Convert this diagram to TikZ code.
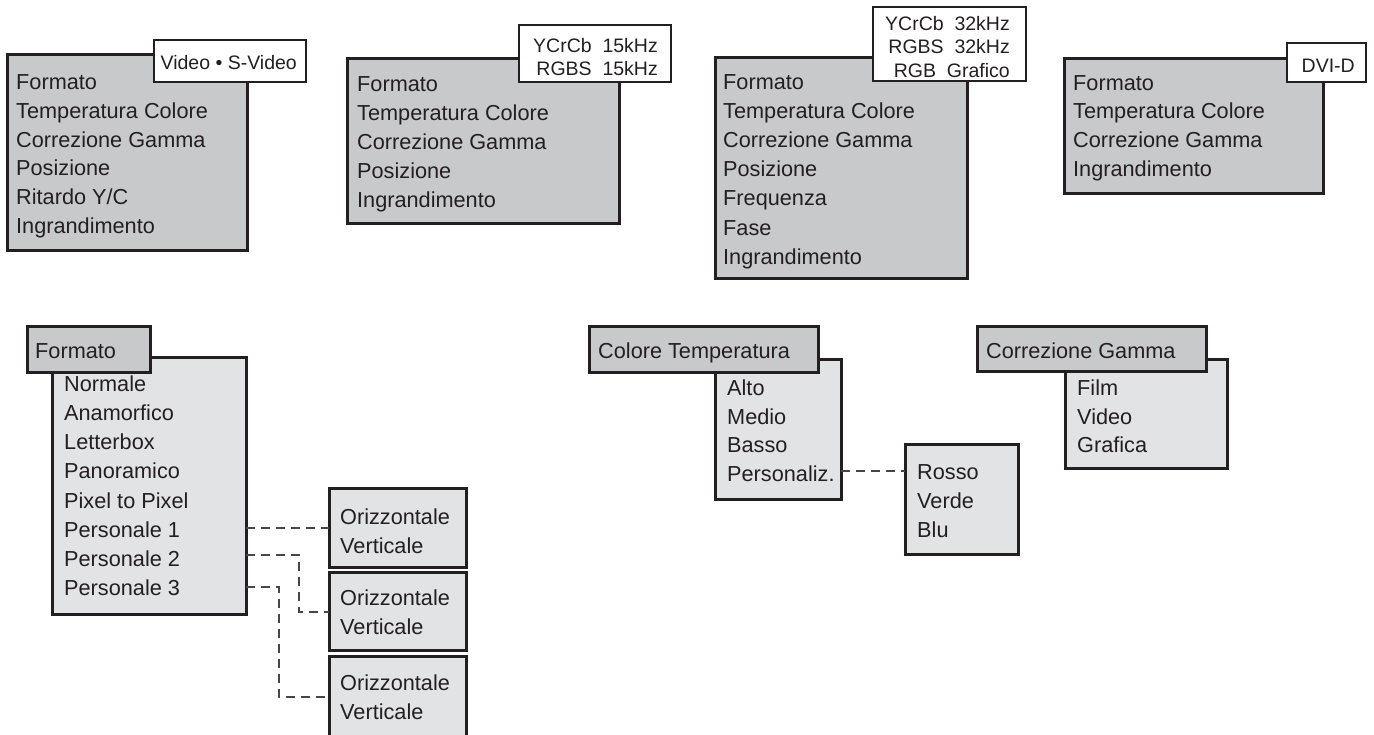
\documentclass[tikz,border=0pt]{standalone}
\usepackage{fontspec}
\setmainfont{Liberation Sans}
\usetikzlibrary{fit}
\definecolor{ink}{RGB}{35,31,32}
\definecolor{gdark}{RGB}{200,201,203}
\definecolor{glight}{RGB}{226,227,229}
\definecolor{dashc}{RGB}{70,70,70}
\begin{document}
\begin{tikzpicture}[x=1pt,y=-1pt,
  boxd/.style={draw=ink, line width=3pt, fill=gdark, inner sep=0pt, outer sep=0pt},
  boxl/.style={draw=ink, line width=3pt, fill=glight, inner sep=0pt, outer sep=0pt},
  lab/.style={draw=ink, line width=2pt, fill=white, inner sep=0pt, outer sep=0pt},
  txt/.style={anchor=base west, inner sep=0pt, text=ink, font=\fontsize{21.7}{29}\selectfont},
  ltxt/.style={anchor=base east, inner sep=0pt, text=ink, font=\fontsize{19.5}{23}\selectfont},
  dashline/.style={draw=dashc, line width=1.5pt, dash pattern=on 9pt off 6pt}]
\useasboundingbox (0,0) rectangle (1374,734);

% ---------- top row ----------
\node[boxd, fit={(7,54) (247,250)}] (b1) {};
\node[lab, fit={(154,40) (306,82)}] (l1) {};
\node[ltxt] (l1t) at (297,69) {Video • S-Video};
\foreach \t [count=\i from 0] in {Formato,Temperatura Colore,Correzione Gamma,Posizione,Ritardo Y/C,Ingrandimento}
  \node[txt] (a\i) at (16,{89.5+28.8*\i}) {\t};

\node[boxd, fit={(347,58) (619,223)}] (b2) {};
\node[lab, fit={(519,25) (671,82)}] (l2) {};
\node[ltxt] (l2a) at (658,52) {YCrCb\ \ 15kHz};
\node[ltxt] (l2b) at (658,75) {RGBS\ \ 15kHz};
\foreach \t [count=\i from 0] in {Formato,Temperatura Colore,Correzione Gamma,Posizione,Ingrandimento}
  \node[txt] (c\i) at (357,{91+29*\i}) {\t};

\node[boxd, fit={(715,57) (967,278)}] (b3) {};
\node[lab, fit={(873,7) (1026,81)}] (l3) {};
\node[ltxt] (l3a) at (1010,30) {YCrCb\ \ 32kHz};
\node[ltxt] (l3b) at (1010,53.5) {RGBS\ \ 32kHz};
\node[ltxt] (l3c) at (1010,77) {RGB\ \ Grafico};
\foreach \t [count=\i from 0] in {Formato,Temperatura Colore,Correzione Gamma,Posizione,Frequenza,Fase,Ingrandimento}
  \node[txt] (d\i) at (723,{89.5+29.1*\i}) {\t};

\node[boxd, fit={(1064,58) (1323,193)}] (b4) {};
\node[lab, fit={(1287,43) (1366,82)}] (l4) {};
\node[ltxt] (l4t) at (1355,72) {DVI-D};
\foreach \t [count=\i from 0] in {Formato,Temperatura Colore,Correzione Gamma,Ingrandimento}
  \node[txt] (e\i) at (1073,{90+28.8*\i}) {\t};

% ---------- Formato ----------
\node[boxl, fit={(52,357) (246,614)}] (flist) {};
\node[boxd, fit={(27,326) (150,372)}] (fhead) {};
\node[txt] (fheadt) at (35,358.5) {Formato};
\foreach \t [count=\i from 0] in {Normale,Anamorfico,Letterbox,Panoramico,Pixel to Pixel,Personale 1,Personale 2,Personale 3}
  \node[txt] (f\i) at (64,{391.5+29.14*\i}) {\t};

\node[boxl, fit={(329,488) (466,567)}] (sA) {};
\node[boxl, fit={(329,572) (466,650)}] (sB) {};
\node[boxl, fit={(329,656) (466,745)}] (sC) {};
\node[txt] (sA1) at (340,524.5) {Orizzontale};
\node[txt] (sA2) at (340,553) {Verticale};
\node[txt] (sB1) at (340,605.5) {Orizzontale};
\node[txt] (sB2) at (340,634) {Verticale};
\node[txt] (sC1) at (340,690.5) {Orizzontale};
\node[txt] (sC2) at (340,719) {Verticale};

\coordinate (q1) at (0,528);
\coordinate (q2) at (0,555);
\coordinate (k2) at (299,612);
\coordinate (q3) at (0,587);
\coordinate (k3) at (279,697);
\draw[dashline] (flist.east |- q1) -- (sA.west |- q1);
\draw[dashline] (flist.east |- q2) -| (k2) -- (sB.west |- k2);
\draw[dashline] (flist.east |- q3) -| (k3) -- (sC.west |- k3);

% ---------- Colore Temperatura ----------
\node[boxl, fit={(715,359) (841,499)}] (ctlist) {};
\node[boxd, fit={(589,326) (818,372)}] (cthead) {};
\node[txt] (ctheadt) at (598,358) {Colore Temperatura};
\foreach \t [count=\i from 0] in {Alto,Medio,Basso,Personaliz.}
  \node[txt] (g\i) at (727,{395.5+28.7*\i}) {\t};
\node[boxl, fit={(905,444) (1018,554)}] (rgb) {};
\foreach \t [count=\i from 0] in {Rosso,Verde,Blu}
  \node[txt] (h\i) at (917,{479.5+29*\i}) {\t};
\coordinate (pz) at (0,471);
\draw[dashline] (ctlist.east |- pz) -- (rgb.west |- pz);

% ---------- Correzione Gamma ----------
\node[boxl, fit={(1065,359) (1227,468)}] (cglist) {};
\node[boxd, fit={(977,326) (1206,371)}] (cghead) {};
\node[txt] (cgheadt) at (986,358) {Correzione Gamma};
\foreach \t [count=\i from 0] in {Film,Video,Grafica}
  \node[txt] (m\i) at (1077,{395.5+28.7*\i}) {\t};
\end{tikzpicture}
\end{document}
